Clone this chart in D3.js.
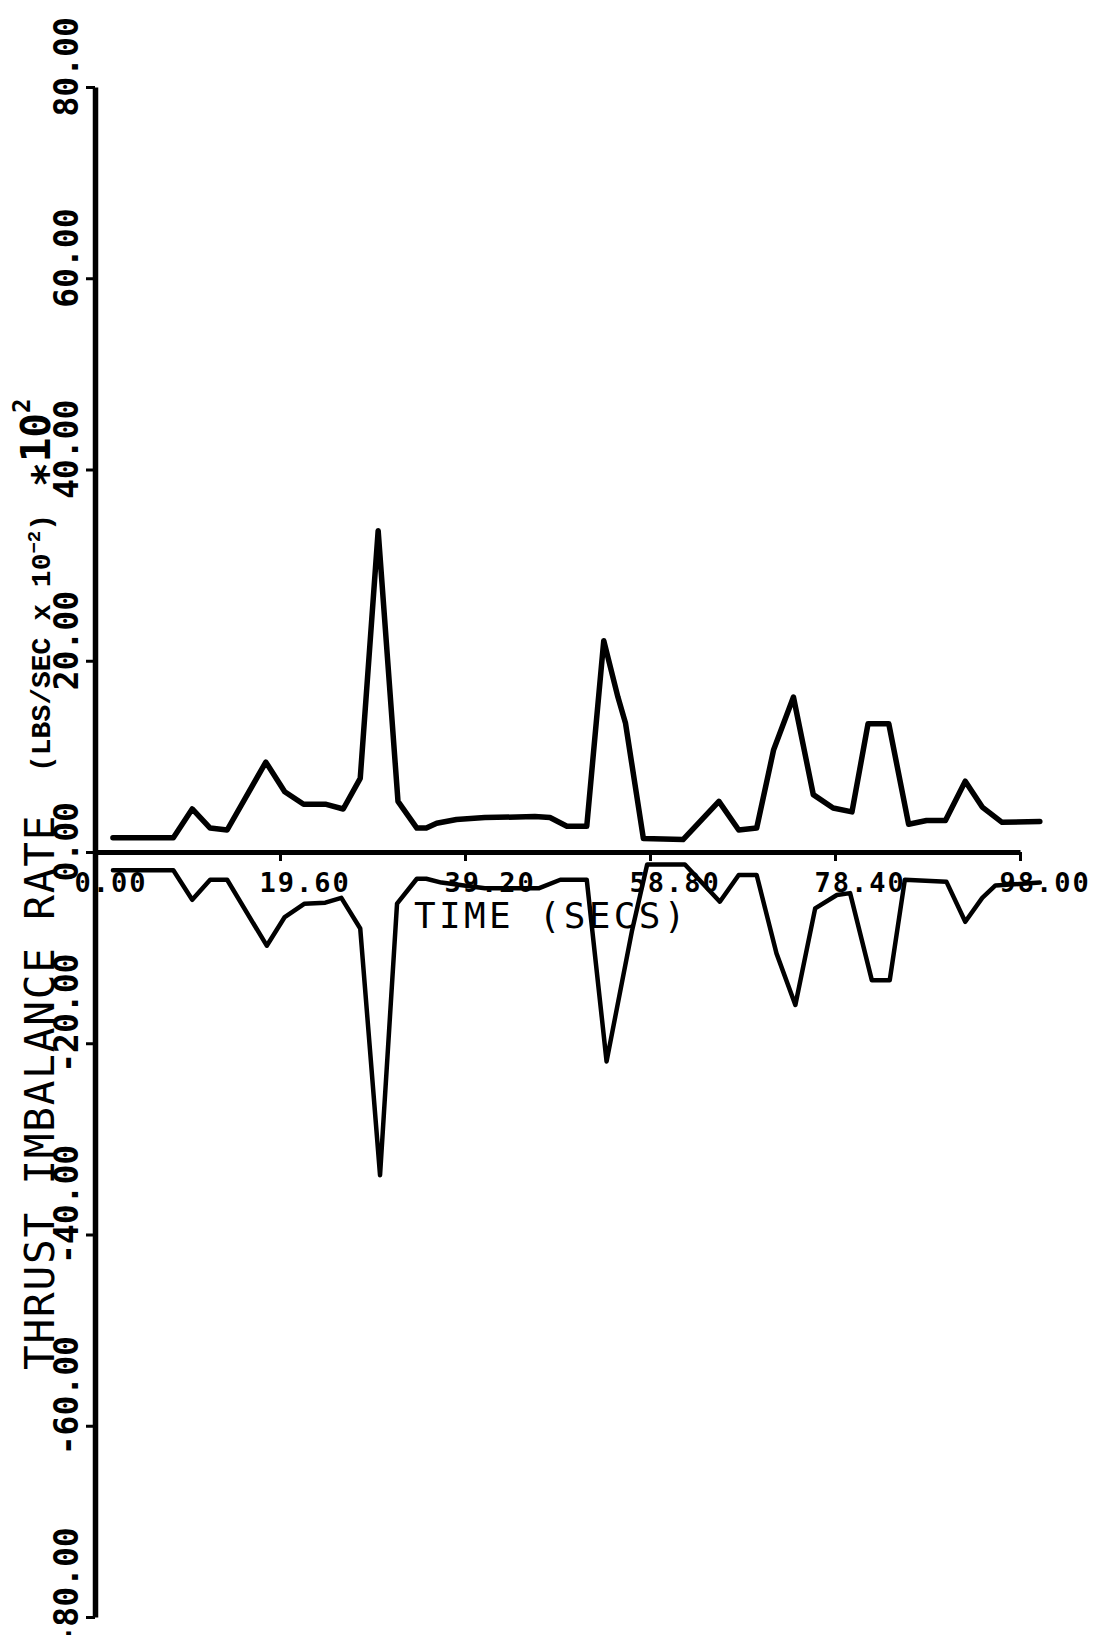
<!DOCTYPE html>
<html><head><meta charset="utf-8">
<script src="https://cdn.jsdelivr.net/npm/d3@7"></script>
<style>html,body{margin:0;padding:0;background:#fff;} svg{display:block;}</style>
</head><body>
<svg id="chart" width="1097" height="1635"></svg>
<script>
// Upper (positive) trace: time (s), rate
const upperTime = [1.9, 8.3, 10.3, 12.2, 14.0, 18.1, 20.1, 22.1, 24.4, 26.3, 28.1, 30.0, 32.1, 34.1, 35.1, 36.2, 38.3, 41.3, 46.6, 48.2, 50.0, 52.1, 53.9, 55.4, 56.2, 58.1, 62.3, 66.1, 68.2, 70.1, 71.9, 74.0, 76.1, 78.2, 80.2, 81.9, 84.1, 86.2, 88.1, 90.1, 92.2, 94.0, 96.1, 100.1];
const upperRate = [1.5, 1.5, 4.5, 2.5, 2.3, 9.4, 6.3, 5.0, 5.0, 4.5, 7.7, 33.6, 5.3, 2.5, 2.5, 3.0, 3.4, 3.6, 3.7, 3.6, 2.7, 2.7, 22.1, 16.2, 13.5, 1.4, 1.3, 5.3, 2.3, 2.5, 10.7, 16.2, 6.0, 4.6, 4.2, 13.4, 13.4, 2.9, 3.3, 3.3, 7.4, 4.7, 3.1, 3.2];
// Lower (negative) trace
const lowerTime = [1.9, 8.3, 10.3, 12.2, 14.0, 18.2, 20.1, 22.2, 24.4, 26.1, 28.1, 30.2, 32.0, 34.1, 35.1, 36.7, 41.3, 47.0, 49.3, 52.1, 54.2, 56.9, 58.5, 62.5, 66.2, 68.2, 70.1, 72.2, 74.2, 76.3, 78.6, 80.0, 82.3, 84.2, 85.8, 90.2, 92.2, 94.0, 95.4, 100.1];
const lowerRate = [-1.9, -1.9, -5.0, -2.9, -2.9, -9.8, -6.8, -5.4, -5.3, -4.8, -8.0, -33.8, -5.4, -2.8, -2.8, -3.2, -3.8, -3.8, -2.9, -2.9, -21.9, -8.2, -1.3, -1.3, -5.2, -2.4, -2.4, -10.6, -16.0, -5.9, -4.5, -4.3, -13.4, -13.4, -2.9, -3.1, -7.3, -4.8, -3.5, -3.2];

const xTickValues = [0, 19.6, 39.2, 58.8, 78.4, 98.0];
const xTickLabels = ["0.00", "19.60", "39.20", "58.80", "78.40", "98.00"];
const yTickValues = [-80, -60, -40, -20, 0, 20, 40, 60, 80];
const yTickLabels = ["-80.00", "-60.00", "-40.00", "-20.00", "0.00", "20.00", "40.00", "60.00", "80.00"];

const svg = d3.select('#chart');
const x = d3.scaleLinear().domain([0, 98]).range([95, 1020]);
const y = d3.scaleLinear().domain([-80, 80]).range([1617, 87]);

const mono = "'DejaVu Sans Mono', 'Liberation Mono', monospace";

// Y axis
const yAxisG = svg.append('g').attr('transform', 'translate(95,0)')
  .call(d3.axisLeft(y).tickValues(yTickValues)
    .tickFormat(d => yTickLabels[yTickValues.indexOf(d)])
    .tickSize(9).tickSizeOuter(0));
yAxisG.attr('font-family', mono).attr('font-size', 33).attr('font-weight', 'bold');
yAxisG.select('.domain').attr('stroke', '#000').attr('stroke-width', 5.5);
yAxisG.selectAll('.tick line').attr('stroke', '#000').attr('stroke-width', 3);
yAxisG.selectAll('.tick text')
  .attr('x', 0).attr('y', 0).attr('dy', null)
  .attr('text-anchor', 'start')
  .attr('fill', '#000')
  .attr('transform', 'translate(-17,29) rotate(-90)');

// X axis
const xAxisG = svg.append('g').attr('transform', `translate(0,${y(0)})`)
  .call(d3.axisBottom(x).tickValues(xTickValues)
    .tickFormat(d => xTickLabels[xTickValues.indexOf(d)])
    .tickSize(9).tickSizeOuter(0));
xAxisG.attr('font-family', mono).attr('font-size', 27).attr('font-weight', 'bold');
xAxisG.select('.domain').attr('stroke', '#000').attr('stroke-width', 5);
xAxisG.selectAll('.tick line').attr('stroke', '#000').attr('stroke-width', 3);
xAxisG.selectAll('.tick text')
  .attr('x', -21).attr('y', 40).attr('dy', null)
  .attr('text-anchor', 'start')
  .attr('fill', '#000')
  .attr('letter-spacing', 2);

// Curves
const line = d3.line().x(d => x(d[0])).y(d => y(d[1]));
const upper = upperTime.map((t, i) => [t, upperRate[i]]);
const lower = lowerTime.map((t, i) => [t, lowerRate[i]]);
svg.append('path').datum(upper).attr('d', line)
  .attr('fill', 'none').attr('stroke', '#000').attr('stroke-width', 5.5)
  .attr('stroke-linejoin', 'round').attr('stroke-linecap', 'round');
svg.append('path').datum(lower).attr('d', line)
  .attr('fill', 'none').attr('stroke', '#000').attr('stroke-width', 4.5)
  .attr('stroke-linejoin', 'round').attr('stroke-linecap', 'round');

// X axis title
svg.append('text').attr('x', 414).attr('y', 928)
  .attr('font-family', mono).attr('font-size', 36)
  .attr('letter-spacing', 3.3).attr('fill', '#000')
  .text('TIME (SECS)');

// Y axis title (rotated)
svg.append('text')
  .attr('transform', 'translate(54,1370) rotate(-90)')
  .attr('font-family', mono).attr('font-size', 41)
  .attr('letter-spacing', 1.8).attr('fill', '#000')
  .text('THRUST IMBALANCE RATE');

const unit = svg.append('text')
  .attr('transform', 'translate(50,772) rotate(-90)')
  .attr('font-family', "'Liberation Mono', 'DejaVu Sans Mono', monospace")
  .attr('font-size', 28).attr('font-weight', 'bold').attr('fill', '#000');
unit.append('tspan').text('(LBS/SEC x 10');
unit.append('tspan').attr('dy', -10).attr('font-size', 19).text('\u22122');
unit.append('tspan').attr('dy', 10).text(')');

const mult = svg.append('text')
  .attr('transform', 'translate(50,487) rotate(-90)')
  .attr('font-family', mono).attr('font-size', 41).attr('font-weight', 'bold')
  .attr('fill', '#000');
mult.append('tspan').attr('dy', 11).text('*');
mult.append('tspan').attr('dy', -11).text('10');
mult.append('tspan').attr('dy', -20).attr('font-size', 24).text('2');
</script>
</body></html>
